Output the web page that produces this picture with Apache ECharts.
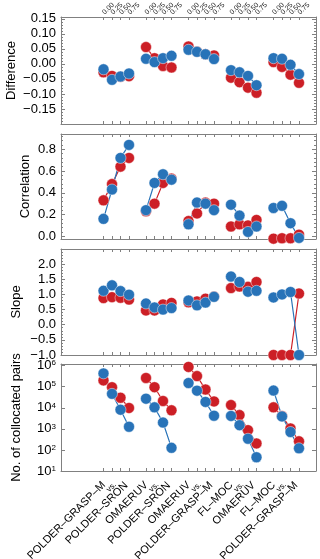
<!DOCTYPE html>
<html lang="en">
<head>
    <meta charset="UTF-8">
    <script src="https://cdn.jsdelivr.net/npm/echarts@6.0.0/dist/echarts.min.js"></script>
    <style>
        html, body {
            margin: 0;
            padding: 0;
            background: #fff;
        }

        #main {
            width: 320px;
            height: 559px;
        }
    </style>
    <title>Collocation statistics</title>
</head>
<body>

<div id="main"></div>
<script type="text/javascript">
    // dataset pairs (bottom labels) and thresholds (top labels)
    const pairNames = [
        ['POLDER–GRASP–M', 'vs.', 'POLDER–SRON'],
        ['OMAERUV', 'vs.', 'POLDER–SRON'],
        ['OMAERUV', 'vs.', 'POLDER–GRASP–M'],
        ['FL–MOC', 'vs.', 'OMAERUV'],
        ['FL–MOC', 'vs.', 'POLDER–GRASP–M']
    ];
    const thresholds = ['0.00', '0.25', '0.50', '0.75'];

    // y tick labels of the linear panels
    const diffTicks = [-0.15, -0.10, -0.05, 0.00, 0.05, 0.10, 0.15];
    const corrTicks = [0.0, 0.2, 0.4, 0.6, 0.8];
    const slopeTicks = [-1.0, -0.5, 0.0, 0.5, 1.0, 1.5, 2.0];

    // 4 values per pair, pairs in order
    const diffRed = [-0.028, -0.040, -0.043, -0.041, 0.056, 0.019, -0.007, -0.012, 0.058, 0.041, 0.032, 0.028,
        -0.046, -0.061, -0.079, -0.096, 0.006, -0.010, -0.036, -0.063];
    const diffBlue = [-0.018, -0.053, -0.042, -0.032, 0.017, 0.006, 0.019, 0.027, 0.047, 0.040, 0.032, 0.016,
        -0.021, -0.028, -0.040, -0.071, 0.019, 0.017, -0.003, -0.034];
    const corrRed = [0.33, 0.48, 0.64, 0.72, 0.23, 0.30, 0.49, 0.53, 0.14, 0.21, 0.31, 0.30,
        0.09, 0.11, 0.10, 0.15, -0.022, -0.018, -0.018, 0.015];
    const corrBlue = [0.16, 0.43, 0.72, 0.84, 0.24, 0.49, 0.57, 0.52, 0.11, 0.31, 0.30, 0.24,
        0.29, 0.19, 0.04, 0.09, 0.26, 0.28, 0.12, -0.015];
    const slopeRed = [0.88, 0.91, 0.89, 0.83, 0.47, 0.47, 0.67, 0.72, 0.74, 0.77, 0.86, 0.93,
        1.21, 1.26, 1.25, 1.41, -1.0, -1.0, -1.0, 1.03];
    const slopeBlue = [1.12, 1.30, 1.11, 0.99, 0.70, 0.57, 0.50, 0.55, 0.80, 0.64, 0.73, 0.92,
        1.59, 1.41, 1.09, 1.12, 0.90, 1.00, 1.08, -1.0];
    const pairsRed = [2.0e5, 9.5e4, 3.0e4, 9.8e3, 2.6e5, 9.5e4, 2.1e4, 7.6e3, 8.7e5, 3.2e5, 7.4e4, 2.0e4,
        1.35e4, 4.5e3, 870, 204, 1.05e4, 4.1e3, 1.05e3, 257];
    const pairsBlue = [4.3e5, 4.6e4, 8.1e3, 1.26e3, 2.7e4, 1.05e4, 2.0e3, 126, 1.5e5, 6.5e4, 1.9e4, 4.2e3,
        4.1e3, 1.5e3, 340, 45, 6.6e4, 3.9e3, 710, 120];

    const RED = '#cc1f26';
    const BLUE = '#2873b8';
    const AX = '#808080';
    const FONT = 'Liberation Sans';

    // x slot of a point: 4 slots per pair, one empty slot between pairs
    const pos = (g, t) => 5 + 5 * g + t;
    const tickX = [];
    pairNames.forEach((_, g) => thresholds.forEach((_, t) => tickX.push(pos(g, t))));

    const numFmt = d => v => v.toFixed(d).replace('-', '\u2212');
    const powFmt = v => '10{s|' + Math.round(Math.log10(v)) + '}';

    const panels = [
        {name: 'Difference', red: diffRed, blue: diffBlue, top: 17, height: 107, gap: 43,
            y: {type: 'value', min: -0.2, max: 0.156, interval: 0.05}, labels: diffTicks, fmt: numFmt(2)},
        {name: 'Correlation', red: corrRed, blue: corrBlue, top: 134, height: 105, gap: 29,
            y: {type: 'value', min: -0.025, max: 0.94}, labels: corrTicks, fmt: numFmt(1)},
        {name: 'Slope', red: slopeRed, blue: slopeBlue, top: 249, height: 106, gap: 38,
            y: {type: 'value', min: -1, max: 2.5, interval: 0.5}, labels: slopeTicks, fmt: numFmt(1)},
        {name: 'No. of collocated pairs', red: pairsRed, blue: pairsBlue, top: 364, height: 107, gap: 38,
            y: {type: 'log', logBase: 10, min: 10, max: 1.2e6}, labels: null, fmt: powFmt}
    ];

    const grids = [], xAxes = [], yAxes = [], series = [];
    const hidden = {axisLine: {show: false}, axisTick: {show: false}, splitLine: {show: false}};
    const txt = {fontFamily: FONT, color: '#000', hideOverlap: false};
    const frameX = [];

    panels.forEach(function (p, i) {
        grids.push({left: 61, right: 4, top: p.top, height: p.height, outerBoundsMode: 'none'});
        const last = i === panels.length - 1;

        // frame: bottom / top x axes with ticks at each threshold
        ['bottom', 'top'].forEach(function (side) {
            let label = {show: false};
            if (side === 'bottom' && last) {
                label = Object.assign({}, txt, {
                    show: true, rotate: 45, margin: 7, showMinLabel: true, showMaxLabel: true,
                    customValues: pairNames.map((_, g) => pos(g, 2)),
                    formatter: function (v) {
                        const n = pairNames[Math.round((v - 7) / 5)];
                        return '{a|' + n[0] + '}\n{v|' + n[1] + '}\n{b|' + n[2] + '}';
                    },
                    rich: {
                        a: {fontSize: 11, lineHeight: 8, fontFamily: FONT, color: '#000', padding: [0, 15.6, 0, 0]},
                        v: {fontSize: 8, lineHeight: 8, fontFamily: FONT, color: '#000', padding: [0, 7.8, 0, 0]},
                        b: {fontSize: 11, lineHeight: 8, fontFamily: FONT, color: '#000'}
                    }
                });
            }
            if (side === 'bottom') frameX.push(xAxes.length);
            xAxes.push({
                type: 'value', gridIndex: i, position: side, min: 0, max: 30,
                axisLine: {show: true, onZero: false, lineStyle: {color: AX, width: 1}},
                axisTick: {show: true, inside: true, length: 3, customValues: tickX, lineStyle: {color: AX}},
                axisLabel: label,
                splitLine: {show: false}
            });
        });

        // left axis (name, ticks), right axis (ticks)
        const yIndex = yAxes.length;
        p.yIndex = yIndex;
        ['left', 'right'].forEach(function (side) {
            const left = side === 'left';
            yAxes.push(Object.assign({
                gridIndex: i, position: side,
                name: left ? p.name : '', nameLocation: 'middle', nameGap: p.gap,
                nameTextStyle: {fontFamily: FONT, fontSize: 13, color: '#000'},
                axisLine: {show: true, onZero: false, lineStyle: {color: AX, width: 1}},
                axisTick: {show: true, inside: true, length: 4, lineStyle: {color: AX}},
                minorTick: {show: p.y.type !== 'log', splitNumber: 5, length: 2, lineStyle: {color: AX}},
                axisLabel: Object.assign({}, txt, {
                    show: left && !p.labels, fontSize: 13, margin: 5, formatter: p.fmt,
                    showMinLabel: true, showMaxLabel: false,
                    rich: {s: {fontSize: 8, lineHeight: 8, fontFamily: FONT, color: '#000', verticalAlign: 'top', padding: [0, 0, 3, 0]}}
                }),
                splitLine: {show: false}
            }, p.y));
        });

        pairNames.forEach(function (_, g) {
            [[p.red, RED], [p.blue, BLUE]].forEach(function (pair) {
                const vals = pair[0], col = pair[1];
                series.push({
                    type: 'line', xAxisIndex: frameX[i], yAxisIndex: yIndex,
                    data: thresholds.map((_, t) => [pos(g, t), vals[g * 4 + t]]),
                    symbol: 'circle', symbolSize: 11,
                    lineStyle: {color: col, width: 1.2},
                    itemStyle: {color: col, borderColor: 'rgba(255,255,255,0.45)', borderWidth: 1},
                    emphasis: {disabled: true},
                    silent: true
                });
            });
        });
    });

    // y tick labels of the linear panels, drawn in label-only overlay grids
    panels.forEach(function (p, i) {
        if (!p.labels) return;
        const gi = grids.length;
        grids.push({left: 61, right: 4, top: p.top, height: p.height, outerBoundsMode: 'none'});
        xAxes.push(Object.assign({type: 'value', gridIndex: gi, min: 0, max: 30, axisLabel: {show: false}}, hidden));
        yAxes.push(Object.assign({
            gridIndex: gi, position: 'left',
            axisLabel: Object.assign({}, txt, {
                show: true, fontSize: 13, margin: 5, formatter: p.fmt,
                customValues: p.labels
            })
        }, hidden, p.y));
    });

    const myChart = echarts.init(document.getElementById('main'), null, {renderer: 'canvas'});
    myChart.setOption({
        animation: false,
        backgroundColor: '#fff',
        grid: grids,
        xAxis: xAxes,
        yAxis: yAxes,
        series: series
    });

    // threshold labels above the first panel, placed through the axis scales
    const topY = myChart.convertToPixel({yAxisIndex: panels[0].yIndex}, panels[0].y.max);
    const topLabels = [];
    pairNames.forEach(function (_, g) {
        thresholds.forEach(function (th, t) {
            topLabels.push({
                type: 'text',
                x: myChart.convertToPixel({xAxisIndex: frameX[0]}, pos(g, t)),
                y: topY - 3.5,
                rotation: Math.PI / 4,
                silent: true,
                style: {text: th, font: '7px "Liberation Sans"', fill: '#222', align: 'left', verticalAlign: 'middle'}
            });
        });
    });
    myChart.setOption({graphic: topLabels});
</script>
</body>
</html>
